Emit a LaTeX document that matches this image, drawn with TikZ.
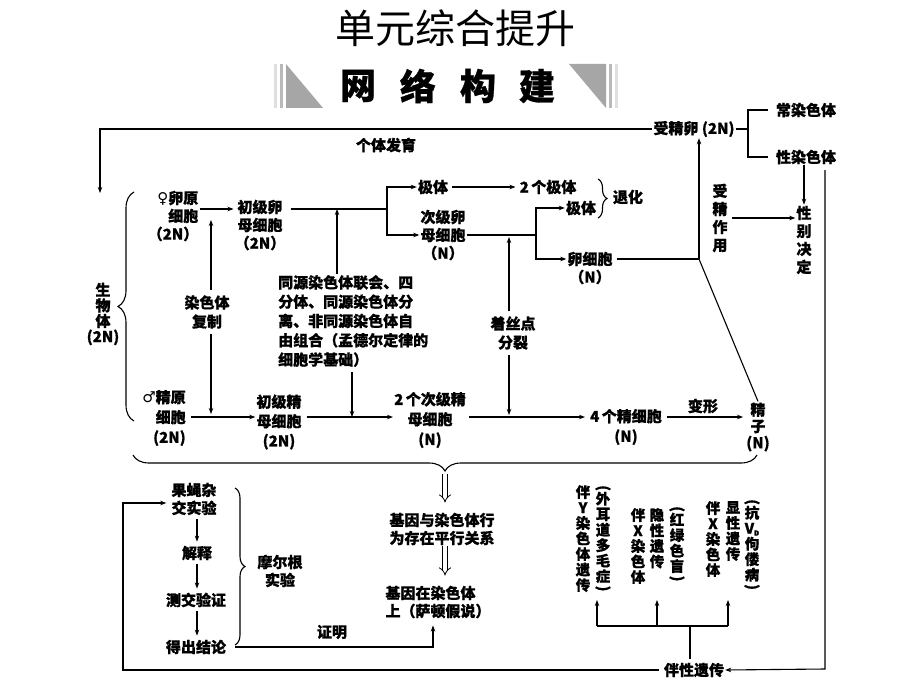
\documentclass[tikz,border=0pt]{standalone}
\usepackage{fontspec}
\setmainfont{Noto Sans CJK SC}[BoldFeatures={FakeBold=0.8}]
\newfontfamily\symf{DejaVu Sans}
\usetikzlibrary{arrows.meta,decorations.pathreplacing,calc}
\newcommand\lpar{\rotatebox[origin=c]{-90}{(}}
\newcommand\rpar{\rotatebox[origin=c]{-90}{)}}
\begin{document}
\begin{tikzpicture}[x=1pt,y=-1pt,
  txt/.style={inner sep=1pt, align=center, font=\fontsize{15}{18}\selectfont\bfseries},
  vtxt/.style={inner sep=1pt, align=center, font=\fontsize{14.5}{15.5}\selectfont\bfseries},
  ln/.style={line width=1.1pt},
  arr/.style={line width=1.1pt,-{Stealth[length=6pt,width=4.5pt]}},
  brc/.style={line width=1.1pt, decorate},
  dbl/.style={double, double distance=3.5pt, line width=0.8pt, -{Implies}}]
\useasboundingbox (0,0) rectangle (920,690);
\fill[white] (0,0) rectangle (920,690);
% header
\node[font=\fontsize{40}{40}\selectfont] (title) at (455,28) {单元综合提升};
\foreach \c/\x in {网/358,络/418,构/478,建/537}
  \node[font=\fontsize{36}{36}\selectfont\bfseries] (h\x) at (\x,86) {\c};
\fill[gray!25] (274,64) rectangle (277,108);
\fill[gray!55] (280,64) rectangle (283,108);
\fill[gray!70] (286,64) -- (286,108) -- (323,108) -- cycle;
\fill[gray!70] (569,64) -- (606,64) -- (606,108) -- cycle;
\fill[gray!55] (609,64) rectangle (612,108);
\fill[gray!25] (615,64) rectangle (618,108);
% row coordinates
\coordinate (r1) at (0,209);
\coordinate (r2) at (0,259);
\coordinate (r3) at (0,417);
% upper nodes
\node[txt] (zyg) at (694,129) {受精卵 (2N)};
\node[txt] (auto) at (806,110) {常染色体};
\node[txt] (sexc) at (806,157) {性染色体};
\node[txt] (sexd) at (804,240) {性\\别\\决\\定};
\node[txt] (fert) at (720,218) {受\\精\\作\\用};
\node[txt] (dev) at (386,145) {个体发育};
\node[txt, align=right] (egg1) at (173,216) {{\symf ♀}卵原\\细胞\\（2N）};
\node[txt] (oo1) at (260,225) {初级卵\\母细胞\\（2N）};
\node[txt] (pb1) at (433,187) {极体};
\node[txt] (pb2) at (548,187) {2\,个极体};
\node[txt] (oo2) at (443,235) {次级卵\\母细胞\\（N）};
\node[txt] (pb3) at (581,208) {极体};
\node[txt] (egg) at (590,268) {卵细胞\\（N）};
\node[txt] (tui) at (628,197) {退化};
\node[txt, align=left, anchor=west, font=\fontsize{15}{19.3}\selectfont\bfseries] (meio) at (277,321)
  {同源染色体联会、四\\分体、同源染色体分\\离、非同源染色体自\\由组合（孟德尔定律的\\细胞学基础）};
\node[txt, font=\fontsize{15}{19}\selectfont\bfseries] (rep) at (207,312) {染色体\\复制};
\node[txt, font=\fontsize{15}{19}\selectfont\bfseries] (cen) at (513,333) {着丝点\\分裂};
\node[txt, font=\fontsize{15}{15.5}\selectfont\bfseries] (body) at (103,314) {生\\物\\体\\(2N)};
% lower row
\node[txt, align=right, font=\fontsize{15}{20}\selectfont\bfseries] (sp1) at (164,418) {{\symf ♂}精原\\细胞\\(2N)};
\node[txt, font=\fontsize{15}{19.5}\selectfont\bfseries] (sp2) at (279,422) {初级精\\母细胞\\(2N)};
\node[txt, font=\fontsize{15}{20}\selectfont\bfseries] (sp3) at (430,420) {2\,个次级精\\母细胞\\(N)};
\node[txt, font=\fontsize{15}{20}\selectfont\bfseries] (sp4) at (626,427) {4\,个精细胞\\(N)};
\node[txt, font=\fontsize{15}{16.5}\selectfont\bfseries] (sperm) at (758,427) {精\\子\\(N)};
\node[txt] (bx) at (703,406) {变形};
% bottom part
\node[txt] (fly) at (194,499) {果蝇杂\\交实验};
\node[txt] (exp) at (197,553) {解释};
\node[txt] (test) at (196,600) {测交验证};
\node[txt] (conc) at (196,647) {得出结论};
\node[txt] (morgan) at (280,571) {摩尔根\\实验};
\node[txt] (gene1) at (442,529) {基因与染色体行\\为存在平行关系};
\node[txt, align=left] (gene2) at (438,602) {基因在染色体\\上（萨顿假说）};
\node[txt] (prove) at (332,632) {证明};
\node[txt] (sexlink) at (694,670) {伴性遗传};
% columns
\node[vtxt, anchor=north] (c1) at (583,484) {伴\\Y\\染\\色\\体\\遗\\传};
\node[vtxt, anchor=north] (c2) at (603,484) {\lpar\\[-4pt]外\\耳\\道\\多\\毛\\症\\[-4pt]\rpar};
\node[vtxt, anchor=north] (c3) at (638,507) {伴\\X\\染\\色\\体};
\node[vtxt, anchor=north] (c4) at (657,507) {隐\\性\\遗\\传};
\node[vtxt, anchor=north] (c5) at (677,505) {\lpar\\[-4pt]红\\绿\\色\\盲\\[-4pt]\rpar};
\node[vtxt, anchor=north] (c6) at (713,500) {伴\\X\\染\\色\\体};
\node[vtxt, anchor=north] (c7) at (733,500) {显\\性\\遗\\传};
\node[vtxt, anchor=north] (c8) at (752,498) {\lpar\\[-4pt]抗\\V\raisebox{-2pt}{\scriptsize D}\\佝\\偻\\病\\[-4pt]\rpar};
% ---- connectors ----
\coordinate (tl) at (100,129);
\coordinate (tlend) at (100,193);
\draw[arr] (zyg.west) -- (tl) -- (tlend);
\coordinate (zb) at (748,129);
\draw[ln] (zyg.east) -- (zb);
\draw[ln, shorten <=7pt, shorten >=7pt] (auto.west) -| (zb) |- (sexc.west);
\draw[arr] (sexc.south -| sexd) -- (sexd.north);
\draw[arr, shorten <=3pt] (fert.east) -- (fert.east -| sexd.west);
\coordinate (rtop) at (825,170);
\coordinate (rbot) at (825,669);
\draw[arr] (rtop) -- (rbot) -- (sexlink.east);
% oogenesis
\draw[arr] (egg1.east |- r1) -- (oo1.west |- r1);
\coordinate (b1) at (387,209);
\draw[ln, shorten <=4pt] (oo1.east |- r1) -- (b1);
\draw[arr] (b1) |- (pb1.west);
\draw[arr] (b1) |- (oo2.west);
\draw[arr, shorten <=3pt, shorten >=3pt] (pb1.east) -- (pb2.west);
\coordinate (b2) at (536,235);
\draw[ln] (oo2.east) -- (b2);
\draw[arr] (b2) |- (pb3.west);
\draw[arr] (b2) |- (egg.west |- r2);
\draw[brc, decoration={brace, amplitude=9pt}] (598,179) -- (598,218);
\coordinate (jz) at (699,259);
\draw[ln, shorten <=3pt] (egg.east |- r2) -- (jz);
\draw[arr] (jz) -- (zyg.south -| jz);
\draw[ln] (sperm.north) -- (jz);
% vertical process arrows
\coordinate (xa) at (337,0);
\coordinate (xb) at (352,0);
\coordinate (xr) at (211,0);
\coordinate (xc) at (509,0);
\draw[arr] (meio.north -| xa) -- (xa |- r1);
\draw[arr, shorten <=4pt] (meio.south -| xb) -- (xb |- r3);
\draw[arr, shorten <=4pt, shorten >=11pt] (rep.north -| xr) -- (xr |- r1);
\draw[arr, shorten <=4pt, shorten >=3pt] (rep.south -| xr) -- (xr |- r3);
\draw[arr, shorten <=4pt, shorten >=2pt] (cen.north -| xc) -- (xc |- oo2);
\draw[arr, shorten <=4pt, shorten >=2pt] (cen.south -| xc) -- (xc |- r3);
% spermatogenesis
\draw[arr, shorten <=4pt] (sp1.east |- r3) -- (sp2.west |- r3);
\draw[arr, shorten <=4pt] (sp2.east |- r3) -- (sp3.west |- r3);
\draw[arr, shorten <=2pt, shorten >=4pt] (sp3.east |- r3) -- (sp4.west |- r3);
\draw[arr, shorten <=4pt, shorten >=2pt] (sp4.east |- r3) -- (sperm.west |- r3);
% braces
\draw[brc, decoration={brace, amplitude=16pt}] (134,421) -- (134,192);
\draw[brc, decoration={brace, amplitude=16pt}] (757,455) -- (133,455);
\draw[brc, decoration={brace, amplitude=10pt}] (235,488) -- (235,645);
% bottom connectors
\coordinate (bt) at (445,474);
\draw[dbl, shorten >=9pt] (bt) -- (gene1.north -| bt);
\draw[dbl, shorten >=9pt] (gene1.south -| bt) -- (gene2.north -| bt);
\coordinate (xf) at (197,0);
\draw[arr, shorten <=3pt, shorten >=3pt] (fly.south -| xf) -- (exp.north -| xf);
\draw[arr, shorten <=3pt, shorten >=3pt] (exp.south -| xf) -- (test.north -| xf);
\draw[arr, shorten <=3pt, shorten >=3pt] (test.south -| xf) -- (conc.north -| xf);
\coordinate (ll) at (123,670);
\coordinate (lt) at (123,503);
\draw[arr, shorten <=4pt, shorten >=4pt] (sexlink.west) -- (ll) -- (lt) -- (fly.west |- lt);
\coordinate (pv) at (433,647);
\draw[arr, shorten <=8pt, shorten >=6pt] (conc.east) -- (pv) -- (pv |- gene2.south);
% sex-linked columns
\coordinate (g1) at (597,626);
\coordinate (g2) at (657,626);
\coordinate (g3) at (728,626);
\coordinate (gc) at (690,626);
\coordinate (t1) at (597,600);
\coordinate (t2) at (657,600);
\coordinate (t3) at (728,600);
\draw[ln] (g1) -- (g3);
\draw[arr] (g1) -- (t1);
\draw[arr] (g2) -- (t2);
\draw[arr] (g3) -- (t3);
\draw[ln, shorten <=3pt] (sexlink.north -| gc) -- (gc);
\end{tikzpicture}
\end{document}
